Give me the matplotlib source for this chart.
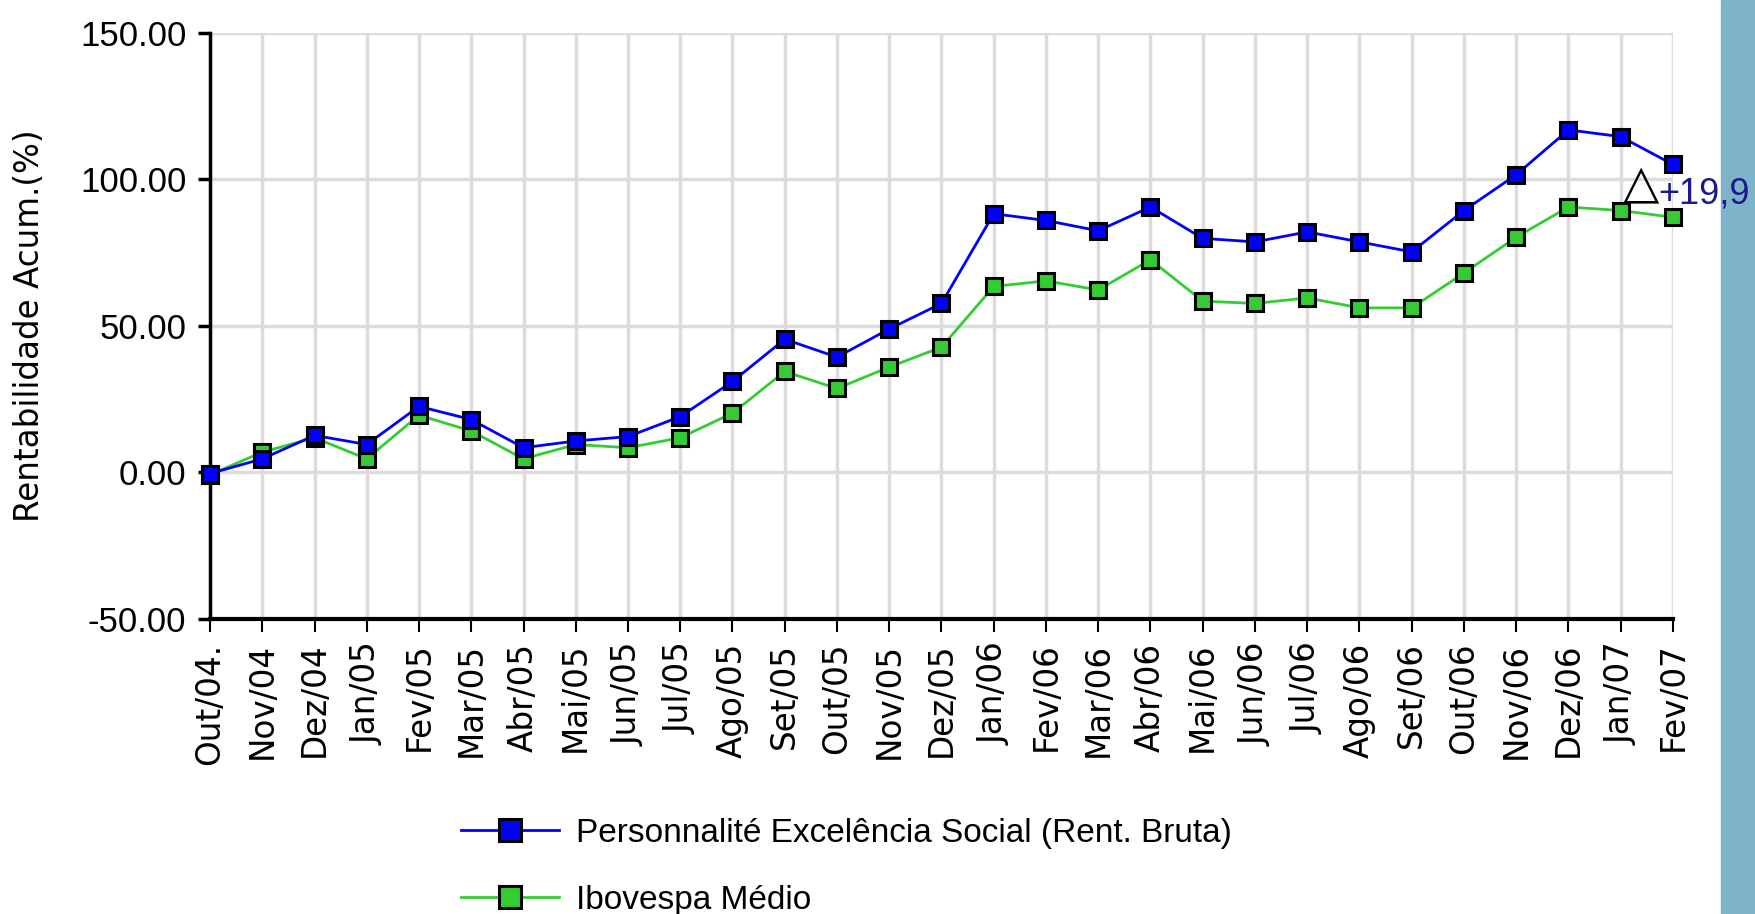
import matplotlib
matplotlib.use("Agg")
import matplotlib.pyplot as plt
from matplotlib.patches import Rectangle

# Monthly categories
meses = ['Out/04.', 'Nov/04', 'Dez/04', 'Jan/05', 'Fev/05', 'Mar/05', 'Abr/05',
         'Mai/05', 'Jun/05', 'Jul/05', 'Ago/05', 'Set/05', 'Out/05', 'Nov/05',
         'Dez/05', 'Jan/06', 'Fev/06', 'Mar/06', 'Abr/06', 'Mai/06', 'Jun/06',
         'Jul/06', 'Ago/06', 'Set/06', 'Out/06', 'Nov/06', 'Dez/06', 'Jan/07',
         'Fev/07']

# Accumulated returns (%)
fundo = [-0.4, 4.6, 12.6, 9.5, 22.5, 18.0, 8.4, 10.7, 12.2, 19.0, 31.0, 45.4,
         39.3, 48.9, 57.6, 88.2, 85.9, 82.4, 90.5, 79.8, 78.6, 82.0, 78.6,
         75.2, 89.3, 101.5, 116.8, 114.5, 105.0]
ibovespa = [-0.8, 6.9, 11.8, 4.6, 19.5, 14.1, 4.6, 9.5, 8.4, 11.8, 20.2, 34.4,
            28.6, 35.9, 42.7, 63.4, 65.3, 62.2, 72.5, 58.4, 57.6, 59.5, 56.1,
            56.1, 68.0, 80.2, 90.5, 89.3, 87.0]

y_ticks = [-50, 0, 50, 100, 150]

plt.rcParams['font.family'] = ['Liberation Sans', 'DejaVu Sans']

fig = plt.figure(figsize=(17.56, 9.14), dpi=100)
ax = fig.add_axes([0.1196, 0.3228, 0.8331, 0.6416])

x = list(range(len(meses)))

ax.plot(x, fundo, color='#0000ff', linewidth=2, marker='s', markersize=11,
        markerfacecolor='#0000ff', markeredgecolor='black', markeredgewidth=2.2,
        label='Personnalité Excelência Social (Rent. Bruta)', zorder=5, clip_on=False)
ax.plot(x, ibovespa, color='#33cc33', linewidth=2, marker='s', markersize=11,
        markerfacecolor='#33cc33', markeredgecolor='black', markeredgewidth=2.2,
        label='Ibovespa Médio', zorder=4, clip_on=False)

ax.set_xlim(0, len(meses) - 1)
ax.set_ylim(-50, 150)
ax.set_yticks(y_ticks)
ax.set_yticklabels([f'{v:.2f}' for v in y_ticks])
ax.set_xticks(x)
ax.set_xticklabels(meses, rotation=90, family=['DejaVu Sans'])

ax.grid(True, color='#dcdcdc', linewidth=2.5)
ax.set_axisbelow(True)
for s in ['top', 'right']:
    ax.spines[s].set_visible(False)
ax.spines['left'].set_linewidth(2.5)
ax.spines['bottom'].set_linewidth(3)

ax.tick_params(axis='y', length=9, width=2.5, labelsize=25, pad=8)
ax.tick_params(axis='x', length=9, width=1.5, labelsize=23.5, pad=8)

ax.set_ylabel('Rentabilidade Acum.(%)', fontsize=23.5, family=['DejaVu Sans'])
ax.yaxis.set_label_coords(-0.112, 0.5)

# Delta annotation
ax.text(27.38, 98, '△', fontsize=34, color='black', ha='center', va='center',
        family=['DejaVu Sans'], clip_on=False)
ax.text(27.72, 94.8, '+19,9', fontsize=26, color='#1a1a8c', ha='left',
        va='center', clip_on=False)

fig.legend(loc='upper left', bbox_to_anchor=(0.255, 0.12), frameon=False,
           fontsize=24, handlelength=2.95, handletextpad=0.5, labelspacing=1.08,
           borderaxespad=0, markerscale=1.4)

fig.patches.append(Rectangle((0.980, 0), 0.02, 1, transform=fig.transFigure,
                             color='#7fb3ca', zorder=-1))

fig.savefig('out.png', dpi=100)
